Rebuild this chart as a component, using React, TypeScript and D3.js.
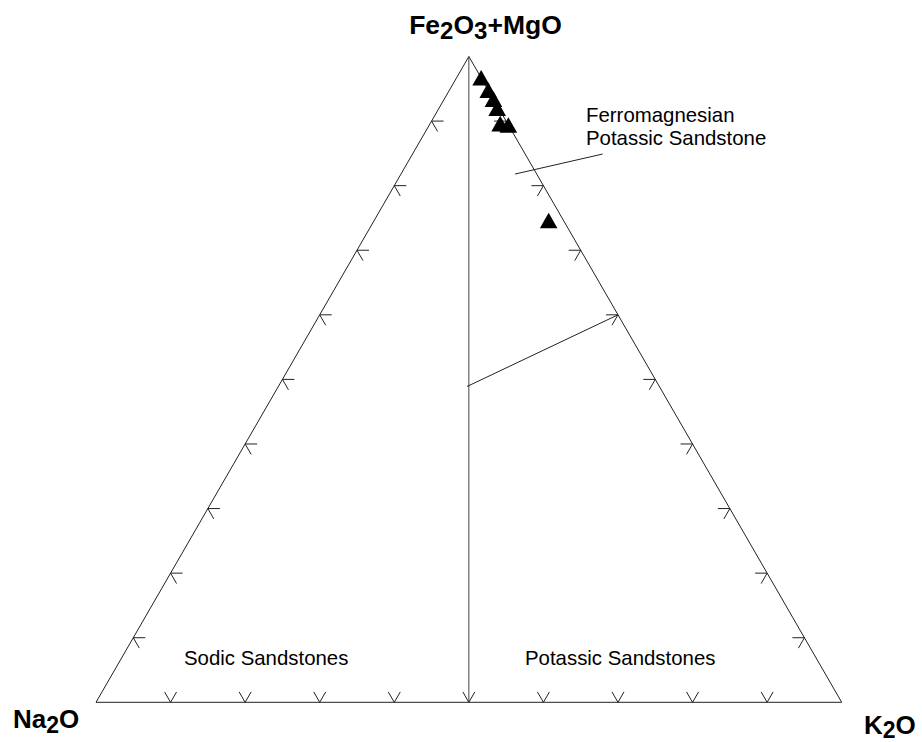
import React from "react";
import * as d3 from "d3";

// Data: ternary compositions (%), Fe2O3+MgO / Na2O / K2O
const feMg = [96.7, 94.8, 93.4, 92.0, 89.6, 89.4, 74.6];
const na2o = [0.0, 0.0, 0.0, 0.2, 1.0, 0.0, 2.0];
const k2o = [3.3, 5.2, 6.6, 7.8, 9.4, 10.6, 23.4];

const tickFractions = [0.1, 0.2, 0.3, 0.4, 0.5, 0.6, 0.7, 0.8, 0.9];

// Field boundaries / annotation lines as ternary [T, K] pairs
const dividerLine = [[1, 0], [0, 0.5]];
const arrowLine = [[0.489, 0.253], [0.6, 0.4]];
const pointerLine = [[0.818, 0.153], [0.849, 0.255]];

const W = 922;
const H = 742;

export default function App() {
  const xs = d3.scaleLinear().domain([0, 1]).range([96, 841.7]);
  const ys = d3.scaleLinear().domain([0, 1]).range([702.3, 56.5]);
  // T = top fraction (Fe2O3+MgO), K = right (K2O)
  const pt = (T: number, K: number): [number, number] => [xs(K + T / 2), ys(T)];

  const apex = pt(1, 0);
  const left = pt(0, 0);
  const right = pt(0, 1);

  const line = d3.line();
  const armLen = 12;
  const rot = (v: [number, number], a: number): [number, number] => [
    v[0] * Math.cos(a) - v[1] * Math.sin(a),
    v[0] * Math.sin(a) + v[1] * Math.cos(a),
  ];
  const chevron = (p: [number, number], inward: [number, number]) => {
    const a1 = rot(inward, Math.PI / 6);
    const a2 = rot(inward, -Math.PI / 6);
    return line([
      [p[0] + a1[0] * armLen, p[1] + a1[1] * armLen],
      p,
      [p[0] + a2[0] * armLen, p[1] + a2[1] * armLen],
    ]) as string;
  };

  const s3 = Math.sqrt(3) / 2;
  const ticks: string[] = [];
  tickFractions.forEach((f) => {
    ticks.push(chevron(pt(0, f), [0, -1]));
    ticks.push(chevron(pt(f, 0), [s3, 0.5]));
    ticks.push(chevron(pt(f, 1 - f), [-s3, 0.5]));
  });

  const tri = (cx: number, cy: number) =>
    `M${cx},${cy - 7.8}L${cx + 8.8},${cy + 7.8}L${cx - 8.8},${cy + 7.8}Z`;

  const pts = feMg.map((f, i) => {
    const s = f + na2o[i] + k2o[i];
    return pt(f / s, k2o[i] / s);
  });

  const toPath = (l: number[][]) => line(l.map((d) => pt(d[0], d[1]))) as string;

  const stroke = "#222";
  return (
    <svg
      width={W}
      height={H}
      style={{ position: "absolute", left: 0, top: 0, display: "block", background: "#fff" }}
      fontFamily="'Liberation Sans', Arial, sans-serif"
    >
      <rect width={W} height={H} fill="#fff" />
      <path
        d={(line([apex, right, left, apex]) as string) + "Z"}
        fill="none"
        stroke={stroke}
        strokeWidth={1}
      />
      <path d={toPath(dividerLine)} fill="none" stroke="#444" strokeWidth={1} />
      <path d={toPath(arrowLine)} fill="none" stroke={stroke} strokeWidth={1} />
      <path d={toPath(pointerLine)} fill="none" stroke={stroke} strokeWidth={1} />
      {ticks.map((d, i) => (
        <path key={i} d={d} fill="none" stroke={stroke} strokeWidth={1} />
      ))}
      {pts.map((p, i) => (
        <path key={"p" + i} d={tri(p[0], p[1])} fill="#000" />
      ))}

      <text x={485.5} y={34} textAnchor="middle" fontSize={26.5} fontWeight="bold" fill="#000">
        Fe<tspan fontSize={24} dy={5}>2</tspan>
        <tspan dy={-5}>O</tspan>
        <tspan fontSize={24} dy={5}>3</tspan>
        <tspan dy={-5}>+MgO</tspan>
      </text>
      <text x={13} y={728} fontSize={26} fontWeight="bold" fill="#000">
        Na<tspan fontSize={23} dy={5}>2</tspan>
        <tspan dy={-5}>O</tspan>
      </text>
      <text x={864} y={734} fontSize={26} fontWeight="bold" fill="#000">
        K<tspan fontSize={23} dy={4}>2</tspan>
        <tspan dy={-4}>O</tspan>
      </text>

      <text x={586} y={121.5} fontSize={20.4} fill="#000">Ferromagnesian</text>
      <text x={586} y={145} fontSize={20.4} fill="#000">Potassic Sandstone</text>
      <text x={184} y={665} fontSize={20.4} fill="#000">Sodic Sandstones</text>
      <text x={525} y={665} fontSize={20.4} fill="#000">Potassic Sandstones</text>
    </svg>
  );
}
